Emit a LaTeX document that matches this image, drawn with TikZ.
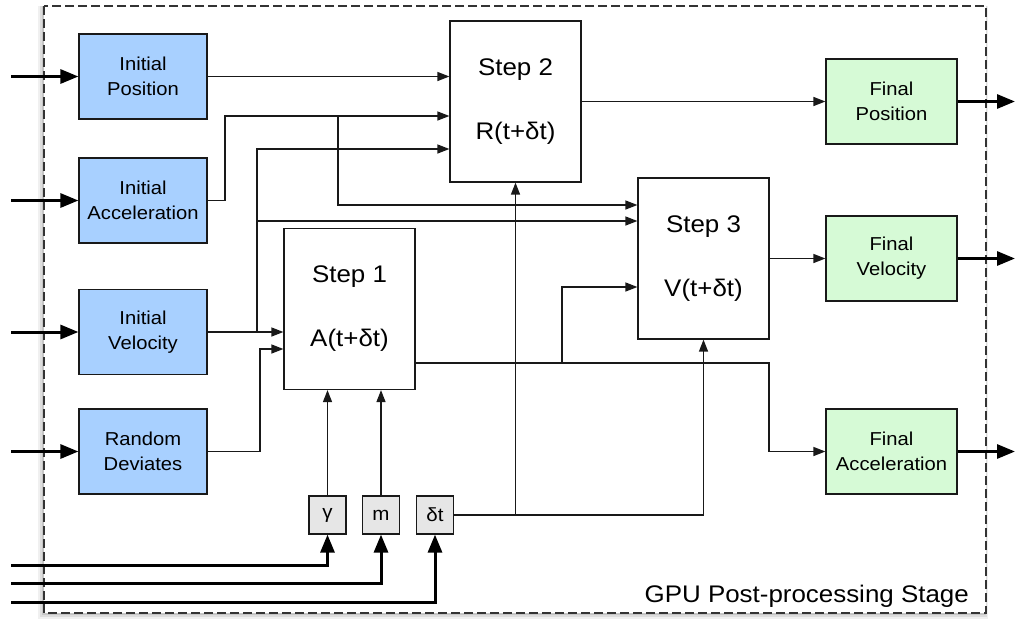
\documentclass[tikz,border=0pt]{standalone}
\usepackage{fontspec}
\setmainfont[FakeStretch=1.08]{Liberation Sans}
\usetikzlibrary{arrows.meta}
\definecolor{blueFill}{RGB}{168,208,255}
\definecolor{greenFill}{RGB}{214,250,214}
\definecolor{parFill}{RGB}{230,230,230}
\definecolor{lineCol}{RGB}{25,25,25}
\begin{document}
\begin{tikzpicture}[x=1pt,y=-1pt,
 box/.style={draw=lineCol, line width=1.2pt, minimum width=128pt, minimum height=85pt, align=center, inner sep=0pt, font=\fontsize{18.7}{25}\selectfont},
 inbox/.style={box, fill=blueFill},
 outbox/.style={box, minimum width=131pt, fill=greenFill},
 stepbox/.style={draw=lineCol, line width=1.2pt, minimum width=131pt, minimum height=161pt, align=center, inner sep=0pt, font=\fontsize{24}{29}\selectfont, fill=white},
 parbox/.style={draw=lineCol, line width=1.2pt, fill=parFill, minimum width=37pt, minimum height=38pt, inner sep=0pt, font=\fontsize{19}{22}\selectfont},
 wire/.style={draw=lineCol, line width=1.3pt, -{Triangle[length=12pt,width=9pt]}},
 thickwire/.style={draw=black, line width=3pt, -{Triangle[length=18pt,width=14pt]}},
 framebox/.style={draw=black!80, line width=1.2pt, dash pattern=on 9pt off 4pt},
]
\useasboundingbox (0,0) rectangle (1015,619);
% frame with soft shadow
\fill[black, opacity=0.06] (38,6) rectangle (988,619);
\fill[black, opacity=0.08] (40,6) rectangle (987,617);
\fill[black, opacity=0.10] (42,6) rectangle (986,615);
\fill[white] (44,6) rectangle (986,613);
\draw[framebox] (44,6) rectangle (986,613);

% input boxes
\node[inbox] (ip) at (143,76.5) {Initial\\Position};
\node[inbox] (ia) at (143,200.5) {Initial\\Acceleration};
\node[inbox] (iv) at (143,332) {Initial\\Velocity};
\node[inbox] (rd) at (143,451.5) {Random\\Deviates};
% steps
\node[stepbox] (s1) at (349.5,309) {Step 1\\[35pt]A(t+δt)};
\node[stepbox] (s2) at (515.5,101.5) {Step 2\\[35pt]R(t+δt)};
\node[stepbox] (s3) at (703.5,258.5) {Step 3\\[35pt]V(t+δt)};
% outputs
\node[outbox] (fp) at (891.5,101.5) {Final\\Position};
\node[outbox] (fv) at (891.5,258.5) {Final\\Velocity};
\node[outbox] (fa) at (891.5,451.5) {Final\\Acceleration};
% parameters
\node[parbox] (g) at (327.5,515) {\raisebox{-3pt}{γ}};
\node[parbox] (m) at (381,515) {\raisebox{-3pt}{m}};
\node[parbox] (dt) at (435,515) {\raisebox{-3pt}{δt}};
% label
\node[font=\fontsize{24}{29}\selectfont, anchor=base east, inner sep=0pt] (lbl) at (969,602) {GPU Post-processing Stage};

% named points
\coordinate (inip) at (11,76.5);
\coordinate (inia) at (11,200.5);
\coordinate (iniv) at (11,332);
\coordinate (inrd) at (11,451.5);
\coordinate (bg) at (11,565);
\coordinate (bm) at (11,583);
\coordinate (bd) at (11,602);
\coordinate (ofp) at (1015,101.5);
\coordinate (ofv) at (1015,258.5);
\coordinate (ofa) at (1015,451.5);
\coordinate (s2a) at (s2.west |- 0,116);
\coordinate (s2b) at (s2.west |- 0,149);
\coordinate (s3a) at (s3.west |- 0,205);
\coordinate (s3b) at (s3.west |- 0,221);
\coordinate (s3c) at (s3.west |- 0,287);
\coordinate (s1a) at (s1.west |- iv.east);
\coordinate (s1b) at (s1.west |- 0,349);
\coordinate (s1o) at (s1.east |- 0,363);
\coordinate (ja) at (338,116);
\coordinate (jv) at (257,332);
\coordinate (jv2) at (257,221);
\coordinate (jo) at (562,363);
\coordinate (jd) at (s2.south |- dt.east);

% external inputs
\draw[thickwire] (inip) -- (ip.west);
\draw[thickwire] (inia) -- (ia.west);
\draw[thickwire] (iniv) -- (iv.west);
\draw[thickwire] (inrd) -- (rd.west);
\draw[thickwire] (bg) -| (g.south);
\draw[thickwire] (bm) -| (m.south);
\draw[thickwire] (bd) -| (dt.south);
% external outputs
\draw[thickwire] (fp.east) -- (ofp);
\draw[thickwire] (fv.east) -- (ofv);
\draw[thickwire] (fa.east) -- (ofa);

% internal wiring
\draw[wire] (ip.east) -- (ip.east -| s2.west);
\draw[wire] (ia.east) -| (225,116) -- (s2a);
\draw[wire] (ja) |- (s3a);
\draw[wire] (iv.east) -- (s1a);
\draw[wire] (jv) |- (s2b);
\draw[wire] (jv2) -- (s3b);
\draw[wire] (rd.east) -| (260,349) -- (s1b);
\draw[wire] (s1o) -| (769,451.5) -- (fa.west);
\draw[wire] (jo) |- (s3c);
\draw[wire] (dt.east) -| (s3.south);
\draw[wire] (jd) -- (s2.south);
\draw[wire] (g.north) -- (g.north |- s1.south);
\draw[wire] (m.north) -- (m.north |- s1.south);
\draw[wire] (s2.east) -- (fp.west);
\draw[wire] (s3.east) -- (fv.west);
\end{tikzpicture}
\end{document}
